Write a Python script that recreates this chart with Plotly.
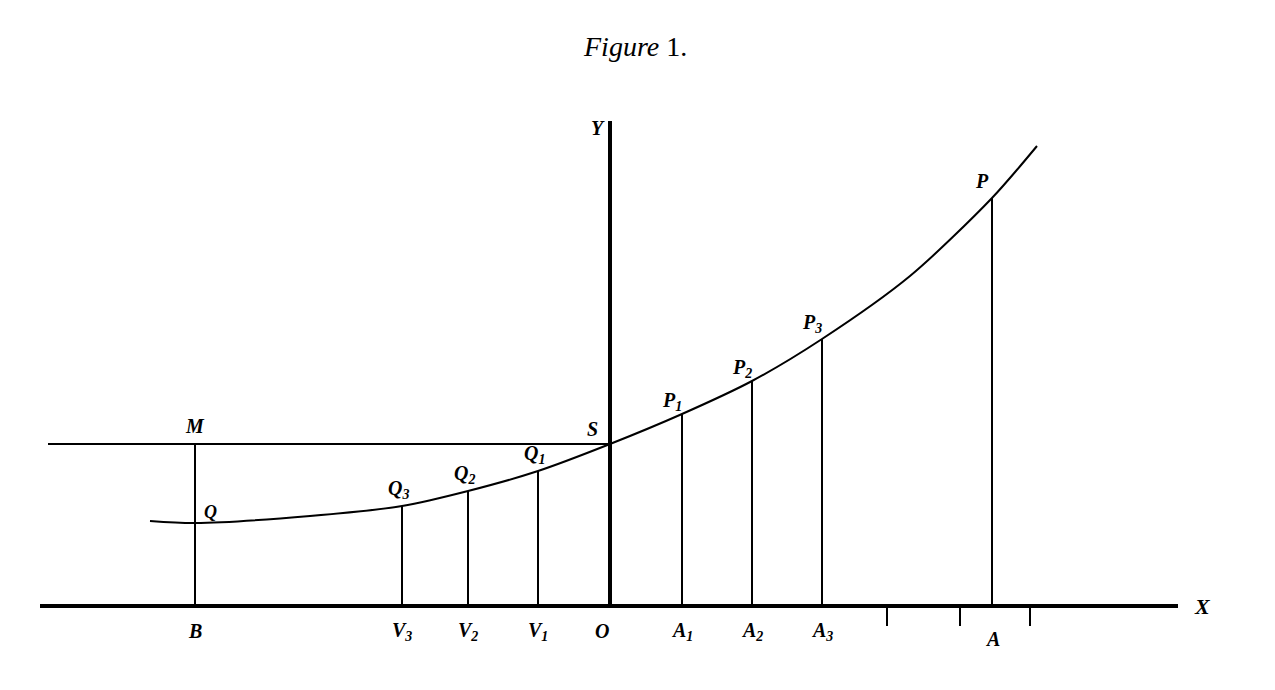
import plotly.graph_objects as go

# curve points (x, y) in diagram units (origin O)
curve_x = [-460, -415, -300, -208, -142, -72, 0, 72, 142, 212, 300, 382, 427]
curve_y = [85, 83, 90, 100, 115, 135, 162, 192, 225, 267, 330, 408, 460]
# ordinates
ord_x = [-415, -208, -142, -72, 72, 142, 212, 382]
ord_y = [162, 100, 115, 135, 192, 225, 267, 408]
foot_labels = ["B", "V<sub>3</sub>", "V<sub>2</sub>", "V<sub>1</sub>", "A<sub>1</sub>", "A<sub>2</sub>", "A<sub>3</sub>", "A"]
top_labels = ["Q<sub>3</sub>", "Q<sub>2</sub>", "Q<sub>1</sub>", "P<sub>1</sub>", "P<sub>2</sub>", "P<sub>3</sub>", "P"]
top_x = [-212, -146, -76, 62, 132, 202, 372]
top_y = [117, 132, 152, 205, 238, 283, 425]
extra_ticks = [277, 350, 420]
S_y = 162

SERIF = "Liberation Serif, DejaVu Serif, Times New Roman, serif"

fig = go.Figure()
line = dict(color="black", width=2)
fig.add_trace(go.Scatter(x=curve_x, y=curve_y, mode="lines", line=dict(color="black", width=2, shape="spline", smoothing=0.8), hoverinfo="skip"))
fig.add_trace(go.Scatter(x=[-570, 568], y=[0, 0], mode="lines", line=dict(color="black", width=4)))
fig.add_trace(go.Scatter(x=[0, 0], y=[0, 485], mode="lines", line=dict(color="black", width=4)))
fig.add_trace(go.Scatter(x=[-562, 0], y=[S_y, S_y], mode="lines", line=line))
for xx, yy in zip(ord_x, ord_y):
    fig.add_trace(go.Scatter(x=[xx, xx], y=[0, yy], mode="lines", line=line))
for xx in extra_ticks:
    fig.add_trace(go.Scatter(x=[xx, xx], y=[0, -20], mode="lines", line=line))

def lab(x, y, t, size=20):
    fig.add_annotation(x=x, y=y, text=f"<b><i>{t}</i></b>", showarrow=False,
                       font=dict(family=SERIF, size=size, color="black"))
for xx, t in zip(ord_x, foot_labels):
    lab(xx, -25 if t != "A" else -33, t)
lab(-8, -25, "O")
lab(-415, 180, "M")
lab(-18, 177, "S")
lab(-400, 94, "Q", 18)
for xx, yy, t in zip(top_x, top_y, top_labels):
    lab(xx, yy, t)
lab(-12, 478, "Y")
lab(592, 0, "X", 22)
fig.add_annotation(x=25, y=560, text="<i>Figure</i> 1.", showarrow=False,
                   font=dict(family=SERIF, size=28, color="black"))

fig.update_layout(width=1275, height=690, margin=dict(l=0, r=0, t=0, b=0),
                  plot_bgcolor="white", paper_bgcolor="white", showlegend=False,
                  xaxis=dict(range=[-602, 673], visible=False),
                  yaxis=dict(range=[-92, 598], visible=False))
fig.write_html("out.html")
